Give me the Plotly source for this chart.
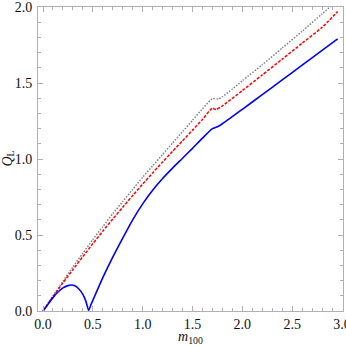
import plotly.graph_objects as go

# Gray dotted curve
gray_x = [0, 0.1, 0.2, 0.3, 0.4, 0.5, 0.6, 0.7, 0.8, 0.9, 1.0, 1.1, 1.2, 1.3, 1.4, 1.5, 1.6, 1.7, 1.76,
          1.8, 1.9, 2.0, 2.2, 2.4, 2.6, 2.8, 2.96]
gray_y = [0, 0.1, 0.195, 0.29, 0.38, 0.47, 0.555, 0.64, 0.72, 0.80, 0.88, 0.955, 1.03, 1.105, 1.18, 1.255,
          1.33, 1.397, 1.395, 1.41, 1.46, 1.515, 1.62, 1.73, 1.84, 1.955, 2.045]

# Red dashed curve
red_x = [0, 0.1, 0.2, 0.3, 0.4, 0.5, 0.6, 0.7, 0.8, 0.9, 1.0, 1.1, 1.2, 1.3, 1.4, 1.5, 1.6, 1.7, 1.735,
         1.8, 2.0, 2.2, 2.4, 2.6, 2.8, 2.956]
red_y = [0, 0.095, 0.185, 0.272, 0.358, 0.443, 0.525, 0.605, 0.683, 0.76, 0.835, 0.908, 0.98, 1.05, 1.12,
         1.19, 1.26, 1.335, 1.325, 1.35, 1.45, 1.553, 1.657, 1.762, 1.866, 1.97]

# Blue solid curve
blue_x = [0, 0.05, 0.1, 0.15, 0.2, 0.25, 0.284, 0.32, 0.36, 0.4, 0.43, 0.458, 0.48, 0.52, 0.6, 0.7, 0.8,
          0.9, 1.0, 1.1, 1.2, 1.3, 1.4, 1.5, 1.6, 1.7, 1.75, 1.8, 2.0, 2.2, 2.4, 2.6, 2.8, 2.956]
blue_y = [0, 0.045, 0.088, 0.125, 0.152, 0.167, 0.171, 0.166, 0.145, 0.11, 0.065, 0.005, 0.04, 0.10, 0.22,
          0.355, 0.48, 0.60, 0.705, 0.795, 0.872, 0.94, 1.005, 1.07, 1.137, 1.20, 1.212, 1.232, 1.327,
          1.423, 1.52, 1.617, 1.714, 1.79]

x_ticks = [0, 0.5, 1.0, 1.5, 2.0, 2.5, 3.0]
y_ticks = [0, 0.5, 1.0, 1.5, 2.0]

fig = go.Figure()
fig.add_trace(go.Scatter(x=gray_x, y=gray_y, mode="lines",
                         line=dict(color="rgb(128,128,128)", width=1.5, dash="1.5px,1.5px", shape="spline", smoothing=0.6)))
fig.add_trace(go.Scatter(x=red_x, y=red_y, mode="lines",
                         line=dict(color="rgb(255,0,0)", width=1.5, dash="3px,1.5px", shape="spline", smoothing=0.6)))
fig.add_trace(go.Scatter(x=blue_x, y=blue_y, mode="lines",
                         line=dict(color="rgb(0,0,255)", width=1.6, shape="spline", smoothing=0.6)))

axis_common = dict(
    showgrid=False, zeroline=False, showline=True, linecolor="#b0b0b0", linewidth=1,
    mirror="allticks", ticks="inside", ticklen=5, tickcolor="#b0b0b0", tickwidth=1,
    tickfont=dict(family="Liberation Serif", size=14, color="#111"),
    tickformat=".1f", automargin=False, ticklabeloverflow="allow",
)

fig.update_layout(
    width=346, height=346,
    margin=dict(l=38, r=3, t=7, b=35),
    paper_bgcolor="white", plot_bgcolor="white",
    showlegend=False,
    xaxis=dict(range=[-0.0502, 3.010], tickvals=x_ticks, ticklabelstandoff=0,
               minor=dict(dtick=0.1, ticks="inside", ticklen=3, tickcolor="#b0b0b0", showgrid=False),
               **axis_common),
    yaxis=dict(range=[0, 2.0], tickvals=y_ticks, ticklabelstandoff=2,
               minor=dict(dtick=0.1, ticks="inside", ticklen=3, tickcolor="#b0b0b0", showgrid=False),
               **axis_common),
    annotations=[
        dict(text="<i>m</i><sub>100</sub>", x=0.5, y=-0.052, xref="paper", yref="paper",
             xanchor="center", yanchor="top", showarrow=False,
             font=dict(family="Liberation Serif", size=14, color="#111")),
        dict(text="<i>Q</i><sub>L</sub>", x=-0.1, y=0.5, xref="paper", yref="paper",
             xanchor="center", yanchor="middle", showarrow=False, textangle=-90,
             font=dict(family="Liberation Serif", size=14, color="#111")),
    ],
)

fig.write_html("out.html", config={"displayModeBar": False},
               post_script="document.body.style.margin='0px';")
